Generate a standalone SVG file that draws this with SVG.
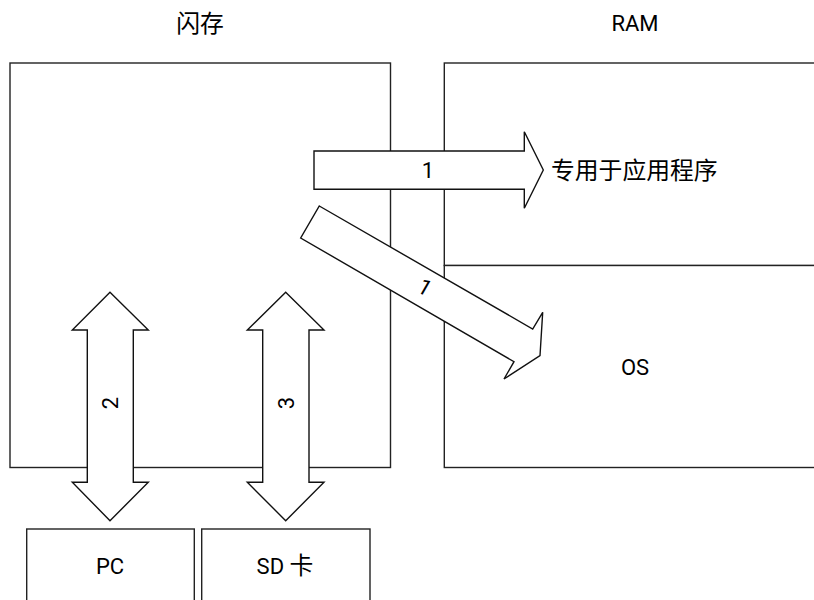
<svg xmlns="http://www.w3.org/2000/svg" width="814" height="600" viewBox="0 0 814 600">
<style>
.box{fill:#fff;stroke:#222;stroke-width:1.4}
.arr{fill:#fff;stroke:#111;stroke-width:1.4;stroke-linejoin:miter}
text{font-family:Roboto,"Noto Sans CJK SC",sans-serif;font-size:22px;fill:#000}
.cjk{font-family:Roboto,"Noto Sans CJK SC",sans-serif;font-size:23.8px}
.mid{text-anchor:middle}
</style>
<rect width="814" height="600" fill="#fff"/>
<g id="flash">
<rect class="box" x="10" y="63" width="380.5" height="404.5"/>
<text class="cjk mid" x="200" y="31.5">闪存</text>
</g>
<g id="ram">
<text class="mid" x="635" y="31">RAM</text>
<g id="ram-app">
<rect class="box" x="444.3" y="63" width="380" height="202.5"/>
</g>
<g id="ram-os">
<rect class="box" x="444.3" y="265.5" width="380" height="202"/>
<text class="mid" x="635" y="375">OS</text>
</g>
</g>
<g id="pc">
<rect class="box" x="26.7" y="529" width="167.6" height="90"/>
<text class="mid" x="110" y="574">PC</text>
</g>
<g id="sdcard">
<rect class="box" x="201.7" y="529" width="168.3" height="90"/>
<text class="mid" x="285" y="574">SD <tspan class="cjk">卡</tspan></text>
</g>
<g id="connectors">
<g id="arrow-2">
<polygon class="arr" points="110,292.3 148.3,330 133.3,330 133.3,482.3 148.3,482.3 110,520.7 72.3,482.3 87.3,482.3 87.3,330 72.3,330"/>
<text class="mid" transform="translate(110,403) rotate(-90)" y="8">2</text>
</g>
<g id="arrow-3">
<polygon class="arr" points="285.7,292.3 324,330 309,330 309,482.3 324,482.3 285.7,520.7 247.3,482.3 262.7,482.3 262.7,330 247.3,330"/>
<text class="mid" transform="translate(286,403) rotate(-90)" y="8">3</text>
</g>
<g id="arrow-1a">
<polygon class="arr" points="314,151 524.3,151 524.3,131.7 543.3,170 524.3,208.3 524.3,189.3 314,189.3"/>
<text class="mid" x="428" y="177.5">1</text>
</g>
<g id="arrow-1b">
<polygon class="arr" points="319.3,206 532.7,329 542.7,312.3 540,355.7 504,379 514,361.7 300.7,238"/>
<text class="mid" transform="translate(425,287) rotate(30)" y="8">1</text>
</g>
</g>
<g id="label-app">
<text class="cjk" x="551" y="178.5">专用于应用程序</text>
</g>
</svg>
